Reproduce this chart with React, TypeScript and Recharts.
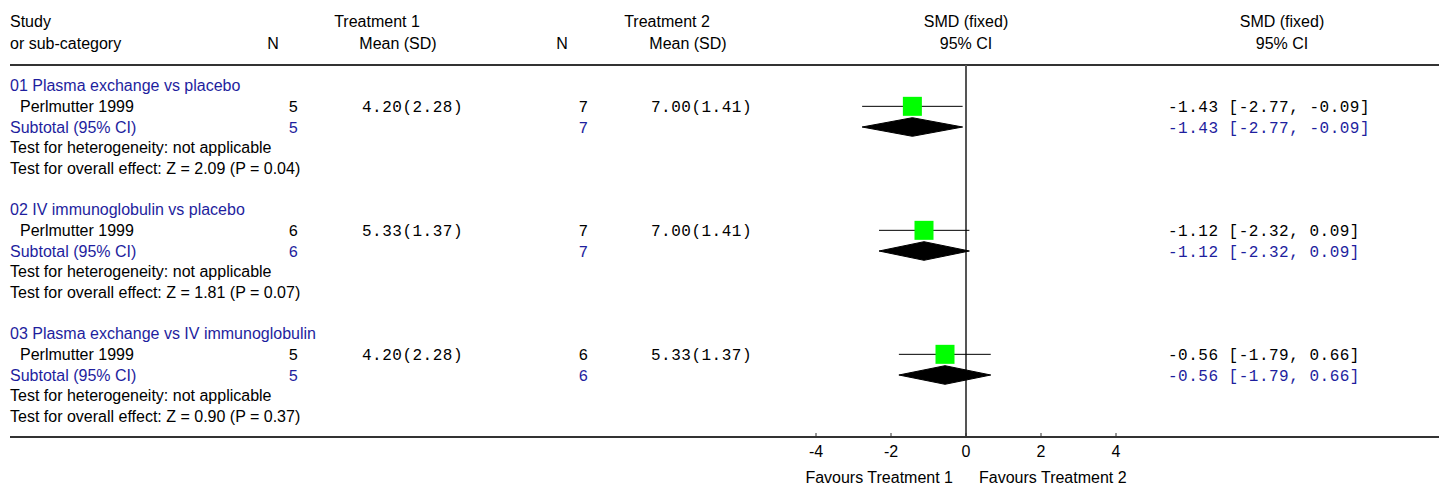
import { ComposedChart, Scatter, XAxis, YAxis, ReferenceLine, ErrorBar } from 'recharts';

const groupTitles = [
  '01 Plasma exchange vs placebo',
  '02 IV immunoglobulin vs placebo',
  '03 Plasma exchange vs IV immunoglobulin',
];
const studyNames = ['Perlmutter 1999', 'Perlmutter 1999', 'Perlmutter 1999'];
const n1 = [5, 6, 5];
const mean1 = [4.2, 5.33, 4.2];
const sd1 = [2.28, 1.37, 2.28];
const n2 = [7, 7, 6];
const mean2 = [7.0, 7.0, 5.33];
const sd2 = [1.41, 1.41, 1.37];
const smd = [-1.43, -1.12, -0.56];
const lower = [-2.77, -2.32, -1.79];
const upper = [-0.09, 0.09, 0.66];
const subSmd = [-1.43, -1.12, -0.56];
const subLower = [-2.77, -2.32, -1.79];
const subUpper = [-0.09, 0.09, 0.66];
const heterogeneity = ['not applicable', 'not applicable', 'not applicable'];
const zValues = [2.09, 1.81, 0.9];
const pValues = [0.04, 0.07, 0.37];
const xTicks = [-4, -2, 0, 2, 4];

const W = 1439;
const H = 484;
const BLUE = '#1e1e9e';
const SANS = '"Liberation Sans", Arial, sans-serif';
const MONO = '"Liberation Mono", "Courier New", monospace';
const ROWS_PER_GROUP = 6;
const DIAMOND_HALF = 0.45; // in row units

const f2 = (v: number) => v.toFixed(2);
const ci = (e: number, l: number, u: number) => `${f2(e)} [${f2(l)}, ${f2(u)}]`;

type Row = {
  x: number;
  y: number;
  kind: 'title' | 'study' | 'subtotal' | 'het' | 'effect';
  label: string;
  nA?: string;
  nB?: string;
  mA?: string;
  mB?: string;
  ci?: string;
};

const textRows: Row[] = [];
groupTitles.forEach((t, g) => {
  const b = g * ROWS_PER_GROUP;
  textRows.push({ x: 0, y: b, kind: 'title', label: t });
  textRows.push({
    x: 0, y: b + 1, kind: 'study', label: studyNames[g],
    nA: String(n1[g]), nB: String(n2[g]),
    mA: `${f2(mean1[g])}(${f2(sd1[g])})`, mB: `${f2(mean2[g])}(${f2(sd2[g])})`,
    ci: ci(smd[g], lower[g], upper[g]),
  });
  textRows.push({
    x: 0, y: b + 2, kind: 'subtotal', label: 'Subtotal (95% CI)',
    nA: String(n1[g]), nB: String(n2[g]),
    ci: ci(subSmd[g], subLower[g], subUpper[g]),
  });
  textRows.push({ x: 0, y: b + 3, kind: 'het', label: `Test for heterogeneity: ${heterogeneity[g]}` });
  textRows.push({
    x: 0, y: b + 4, kind: 'effect',
    label: `Test for overall effect: Z = ${f2(zValues[g])} (P = ${f2(pValues[g])})`,
  });
});

const studyPoints = smd.map((v, g) => ({
  x: v,
  y: g * ROWS_PER_GROUP + 1,
  err: [v - lower[g], upper[g] - v],
}));

const diamonds = subSmd.map((v, g) => {
  const r = g * ROWS_PER_GROUP + 2;
  return [
    { x: subLower[g], y: r },
    { x: v, y: r - DIAMOND_HALF },
    { x: subUpper[g], y: r },
    { x: v, y: r + DIAMOND_HALF },
  ];
});

const RowText = (props: any) => {
  const { cy, payload } = props;
  const p: Row = payload;
  const color = p.kind === 'title' || p.kind === 'subtotal' ? BLUE : '#000';
  const by = cy + 5.5;
  return (
    <g>
      <text x={p.kind === 'study' ? 20 : 10} y={by} fill={color} fontFamily={SANS} fontSize={16}>
        {p.label}
      </text>
      {p.nA && (
        <text x={298} y={by} textAnchor="end" fill={color} fontFamily={MONO} fontSize={16}>{p.nA}</text>
      )}
      {p.nB && (
        <text x={588} y={by} textAnchor="end" fill={color} fontFamily={MONO} fontSize={16}>{p.nB}</text>
      )}
      {p.mA && (
        <text x={362} y={by} fill={color} fontFamily={MONO} fontSize={16} letterSpacing={0.5}>{p.mA}</text>
      )}
      {p.mB && (
        <text x={651} y={by} fill={color} fontFamily={MONO} fontSize={16} letterSpacing={0.5}>{p.mB}</text>
      )}
      {p.ci && (
        <text x={1168} y={by} fill={color} fontFamily={MONO} fontSize={16} letterSpacing={0.5}>{p.ci}</text>
      )}
    </g>
  );
};

const GreenSquare = (props: any) => {
  const { cx, cy } = props;
  return <rect x={cx - 9.5} y={cy - 9.5} width={19} height={19} fill="#00ff00" />;
};

const NoDot = () => <g />;

const DiamondPoly = (props: any) => {
  const pts = (props.points || []).map((p: any) => `${p.x},${p.y}`).join(' ');
  return <polygon points={pts} fill="#000" stroke="#000" strokeWidth={1} />;
};

const Tick = (props: any) => {
  const { x, y, payload } = props;
  return (
    <g>
      <line x1={x} x2={x} y1={y - 4} y2={y} stroke="#333" strokeWidth={1} />
      <text x={x} y={y + 20} textAnchor="middle" fill="#000" fontFamily={SANS} fontSize={16}>
        {payload.value}
      </text>
    </g>
  );
};

const headers = [
  { t: 'Study', x: 10, y: 22, a: 'left' },
  { t: 'or sub-category', x: 10, y: 44, a: 'left' },
  { t: 'N', x: 273, y: 44, a: 'center' },
  { t: 'Treatment 1', x: 377, y: 22, a: 'center' },
  { t: 'Mean (SD)', x: 398, y: 44, a: 'center' },
  { t: 'N', x: 562, y: 44, a: 'center' },
  { t: 'Treatment 2', x: 667, y: 22, a: 'center' },
  { t: 'Mean (SD)', x: 688, y: 44, a: 'center' },
  { t: 'SMD (fixed)', x: 966, y: 22, a: 'center' },
  { t: '95% CI', x: 966, y: 44, a: 'center' },
  { t: 'SMD (fixed)', x: 1282, y: 22, a: 'center' },
  { t: '95% CI', x: 1282, y: 44, a: 'center' },
  { t: 'Favours Treatment 1', x: 953, y: 478, a: 'right' },
  { t: 'Favours Treatment 2', x: 979, y: 478, a: 'left' },
];

export default function App() {
  // plot spans x 10..1439, 0 sits at 966, 37.5px per unit
  const xMin = (10 - 966) / 37.5;
  const xMax = (W - 966) / 37.5;
  return (
    <div style={{ position: 'relative', width: W, height: H, background: '#fff' }}>
      <style>{'body{margin:0}'}</style>
      <ComposedChart width={W} height={H} margin={{ top: 65, right: 0, bottom: 0, left: 10 }}>
        <XAxis
          type="number"
          dataKey="x"
          domain={[xMin, xMax]}
          ticks={xTicks}
          height={47}
          tickSize={0}
          tickMargin={0}
          tickLine={false}
          axisLine={{ stroke: '#333', strokeWidth: 2 }}
          tick={<Tick />}
          interval={0}
        />
        <YAxis type="number" dataKey="y" domain={[-1, 17]} reversed hide />
        <ReferenceLine y={-1} stroke="#333" strokeWidth={2} />
        <ReferenceLine x={0} stroke="#555" strokeWidth={2} />
        <Scatter data={textRows} shape={<RowText />} isAnimationActive={false} />
        {diamonds.map((d, i) => (
          <Scatter
            key={i}
            data={d}
            shape={<NoDot />}
            line={DiamondPoly}
            lineType="joint"
            isAnimationActive={false}
          />
        ))}
        <Scatter data={studyPoints} shape={<GreenSquare />} isAnimationActive={false}>
          <ErrorBar dataKey="err" direction="x" width={0} stroke="#000" strokeWidth={1} />
        </Scatter>
      </ComposedChart>
      {headers.map((h, i) => (
        <div
          key={i}
          style={{
            position: 'absolute',
            top: h.y - 10,
            left: h.a === 'left' ? h.x : undefined,
            right: h.a === 'right' ? W - h.x : undefined,
            ...(h.a === 'center' ? { left: h.x, transform: 'translateX(-50%)' } : {}),
            lineHeight: '20px',
            fontFamily: SANS,
            fontSize: 16,
            whiteSpace: 'nowrap',
            color: '#000',
          }}
        >
          {h.t}
        </div>
      ))}
    </div>
  );
}
